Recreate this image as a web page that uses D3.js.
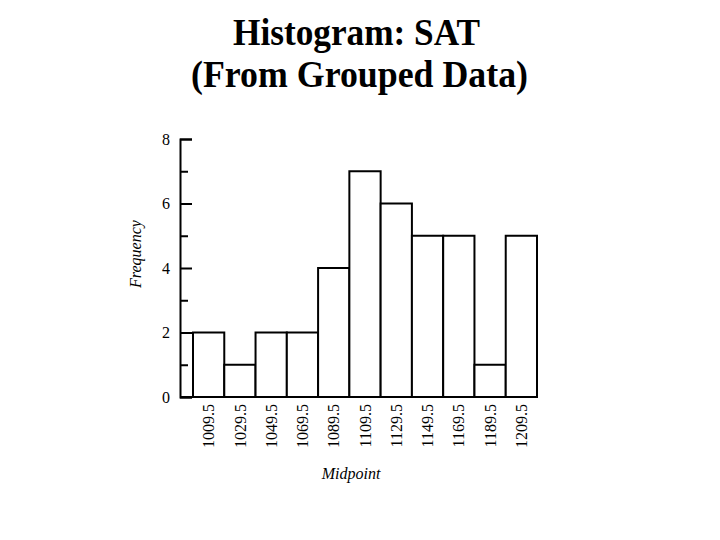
<!DOCTYPE html>
<html lang="en">
<head>
    <meta charset="UTF-8">
    <title>Histogram: SAT</title>
    <script src="https://d3js.org/d3.v7.min.js"></script>
    <style>
        body { margin: 0; background: #fff; }
        .title { font-family: "Liberation Serif", serif; font-weight: bold; font-size: 38px; }
        .axis text { font-family: "Liberation Serif", serif; font-size: 16px; fill: #000; }
        .axis path, .axis line { stroke: #000; stroke-width: 2px; }
        .lbl { font-family: "Liberation Serif", serif; font-style: italic; font-size: 16px; }
    </style>
</head>
<body>
<svg width="720" height="540"></svg>
<script>
    // midpoints and frequencies
    const midpoints = ["1009.5", "1029.5", "1049.5", "1069.5", "1089.5", "1109.5",
                       "1129.5", "1149.5", "1169.5", "1189.5", "1209.5"];
    const freq = [2, 1, 2, 2, 4, 7, 6, 5, 5, 1, 5];
    const majorTicks = [0, 2, 4, 6, 8];
    const minorTicks = [1, 3, 5, 7];

    const svg = d3.select("svg");
    const axisX = 180;

    let x = d3.scaleBand().domain(midpoints).range([193, 537]).padding(0);
    let y = d3.scaleLinear().domain([0, 8]).range([397, 139]);

    // title (scan font is a bit narrow, squeeze to width)
    svg.append("text").attr("class", "title").attr("x", 233).attr("y", 45)
        .attr("textLength", 247).attr("lengthAdjust", "spacingAndGlyphs")
        .text("Histogram: SAT");
    svg.append("text").attr("class", "title").attr("x", 191).attr("y", 87)
        .attr("textLength", 337).attr("lengthAdjust", "spacingAndGlyphs")
        .text("(From Grouped Data)");

    // bars
    svg.append("g").selectAll("rect")
        .data(freq)
        .enter()
        .append("rect")
        .attr("x", (d, i) => x(midpoints[i]))
        .attr("y", d => y(d))
        .attr("width", x.bandwidth())
        .attr("height", d => y(0) - y(d))
        .attr("fill", "#fff")
        .attr("stroke", "#000")
        .attr("stroke-width", 2);

    // y axis: ticks point inward, labels on the left
    svg.append("g").attr("class", "axis")
        .attr("transform", `translate(${axisX},0)`)
        .call(d3.axisLeft(y).tickValues(majorTicks).tickSize(-12).tickPadding(10));
    svg.append("g").attr("class", "axis minor")
        .attr("transform", `translate(${axisX},0)`)
        .call(d3.axisLeft(y).tickValues(minorTicks).tickSize(-8).tickFormat(""))
        .select(".domain").remove();

    // baseline
    svg.append("line")
        .attr("x1", axisX).attr("x2", x.range()[1] + 1)
        .attr("y1", y(0)).attr("y2", y(0))
        .attr("stroke", "#000").attr("stroke-width", 2);

    // x labels, rotated
    let xa = svg.append("g").attr("class", "axis")
        .attr("transform", `translate(0,${y(0)})`)
        .call(d3.axisBottom(x).tickSize(0).tickPadding(0));
    xa.select(".domain").remove();
    xa.selectAll("text")
        .attr("transform", "rotate(-90)")
        .attr("text-anchor", "end")
        .attr("x", -7).attr("y", 0).attr("dy", "0.35em");

    svg.append("text").attr("class", "lbl")
        .attr("x", 351).attr("y", 479).attr("text-anchor", "middle").text("Midpoint");
    svg.append("text").attr("class", "lbl")
        .attr("transform", "translate(141,254) rotate(-90)")
        .attr("text-anchor", "middle").text("Frequency");
</script>
</body>
</html>
